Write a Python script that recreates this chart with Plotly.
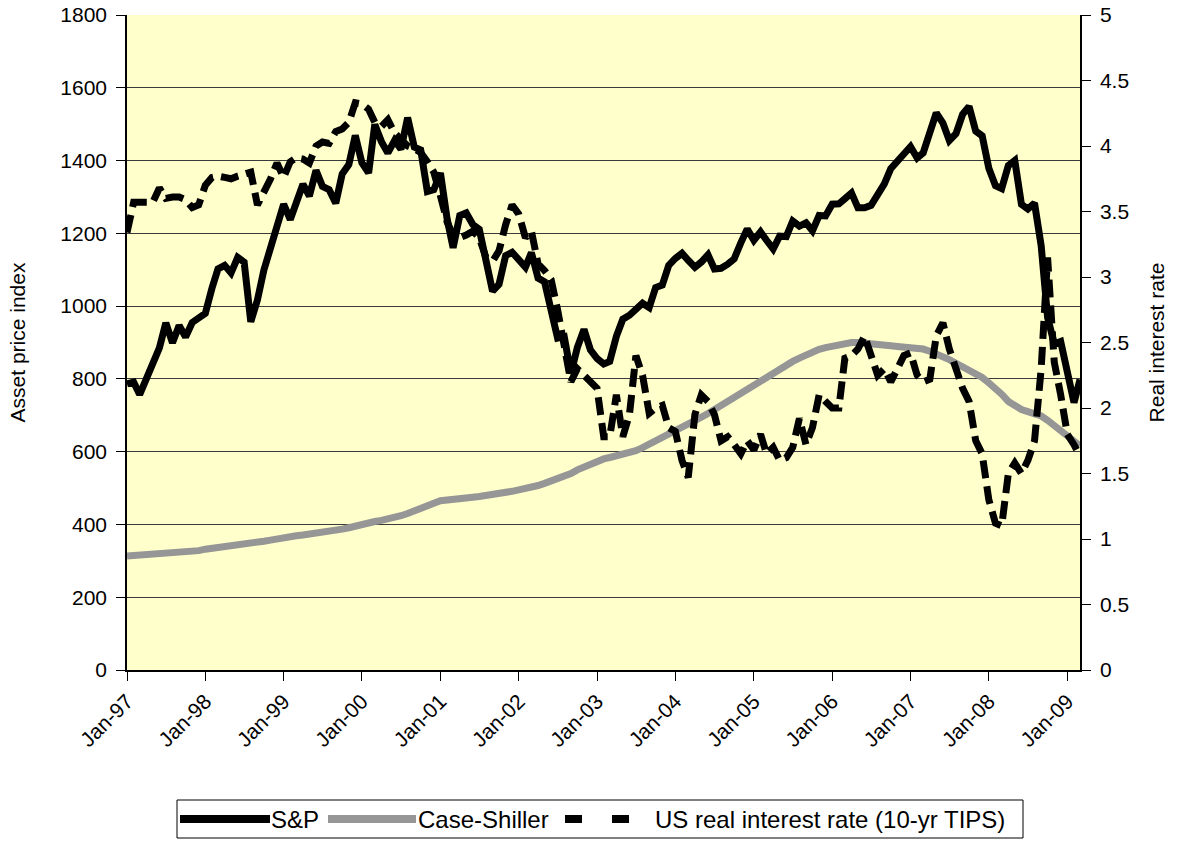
import pandas as pd
import plotly.graph_objects as go

start_month = "1997-01-01"
n_months = 147

sp500 = [
    786, 791, 757, 801, 848, 885, 954, 899, 947, 915, 955, 970,
    980, 1049, 1102, 1112, 1091, 1134, 1121, 957, 1017, 1099, 1164, 1229,
    1280, 1238, 1286, 1335, 1302, 1373, 1329, 1320, 1283, 1363, 1389, 1469,
    1394, 1366, 1499, 1452, 1421, 1455, 1431, 1518, 1437, 1429, 1315, 1320,
    1366, 1240, 1160, 1249, 1256, 1224, 1211, 1134, 1041, 1060, 1139, 1148,
    1130, 1107, 1147, 1077, 1067, 990, 912, 916, 815, 886, 936, 880,
    856, 841, 848, 917, 964, 975, 990, 1008, 996, 1051, 1058, 1112,
    1131, 1145, 1126, 1107, 1121, 1141, 1102, 1104, 1115, 1130, 1174, 1212,
    1181, 1204, 1181, 1157, 1192, 1191, 1234, 1220, 1229, 1207, 1249, 1248,
    1280, 1281, 1295, 1311, 1270, 1270, 1277, 1304, 1336, 1378, 1401, 1418,
    1438, 1407, 1421, 1482, 1531, 1503, 1455, 1474, 1527, 1549, 1481, 1468,
    1379, 1331, 1323, 1386, 1400, 1280, 1267, 1283, 1166, 969, 896, 903,
    826, 735, 798,
]

case_shiller = [
    313, 314, 315, 316, 317, 318, 319, 320, 322, 324, 326, 328,
    332, 334, 336, 338, 340, 342, 345, 348, 351, 354, 357, 361,
    365, 367, 369, 371, 373, 375, 378, 381, 384, 387, 391, 396,
    402, 405, 408, 411, 414, 418, 424, 430, 436, 443, 450, 458,
    465, 468, 470, 472, 473, 475, 477, 479, 482, 485, 488, 491,
    495, 498, 502, 507, 513, 519, 526, 533, 540, 550, 558, 566,
    575, 580, 584, 588, 592, 596, 603, 611, 620, 629, 638, 647,
    657, 666, 675, 685, 695, 705, 716, 727, 738, 750, 762, 772,
    782, 794, 806, 818, 828, 838, 848, 857, 866, 874, 881, 886,
    890, 895, 898, 900, 900, 899, 897, 895, 893, 891, 889, 888,
    887, 885, 882, 876, 870, 862, 853, 843, 834, 825, 815, 804,
    789, 775, 758, 738, 725, 716, 710, 705, 698, 686, 672, 656,
    640, 628, 616,
]

tips_real_rate = [
    3.34, 3.57, 3.57, 3.57, 3.57, 3.68, 3.60, 3.61, 3.61, 3.59, 3.53, 3.55,
    3.70, 3.76, 3.77, 3.76, 3.75, 3.77, 3.78, 3.80, 3.55, 3.64, 3.75, 3.87,
    3.76, 3.88, 3.91, 3.90, 3.87, 4.00, 4.03, 4.02, 4.11, 4.13, 4.18, 4.33,
    4.32, 4.28, 4.18, 4.15, 4.20, 4.10, 4.05, 4.00, 3.98, 3.95, 3.88, 3.80,
    3.62, 3.42, 3.32, 3.30, 3.32, 3.35, 3.30, 3.15, 3.12, 3.20, 3.40, 3.55,
    3.48, 3.30, 3.35, 3.10, 3.05, 2.98, 2.75, 2.45, 2.20, 2.30, 2.25, 2.20,
    2.15, 1.78, 1.78, 2.10, 1.78, 1.95, 2.40, 2.25, 1.96, 2.00, 2.02, 1.85,
    1.82, 1.60, 1.47, 1.95, 2.10, 2.05, 1.95, 1.75, 1.78, 1.72, 1.65, 1.75,
    1.68, 1.80, 1.65, 1.70, 1.60, 1.62, 1.70, 1.92, 1.72, 1.85, 2.10, 2.05,
    2.00, 2.00, 2.38, 2.40, 2.45, 2.55, 2.40, 2.25, 2.30, 2.20, 2.30, 2.40,
    2.42, 2.25, 2.20, 2.22, 2.55, 2.65, 2.45, 2.30, 2.15, 2.05, 1.75, 1.65,
    1.30, 1.12, 1.10, 1.50, 1.58, 1.50, 1.60, 1.75, 2.30, 3.15, 2.35, 2.10,
    1.80, 1.72, 1.63,
]

series_names = ["S&P", "Case-Shiller", "US real interest rate (10-yr TIPS)"]
left_ticks = list(range(0, 1801, 200))
right_ticks = [0, 0.5, 1, 1.5, 2, 2.5, 3, 3.5, 4, 4.5, 5]

dates = pd.date_range(start_month, periods=n_months, freq="MS")

FONT = "Liberation Sans, Arial, sans-serif"
W, H = 1178, 843
ML, MR, MT, MB = 127, 98, 15, 173
PW, PH = W - ML - MR, H - MT - MB

SP_STYLE = dict(color="#000000", width=7)
CS_STYLE = dict(color="#969696", width=7)
TIPS_STYLE = dict(color="#000000", width=7, dash="18px,8px")

fig = go.Figure()
fig.add_trace(go.Scatter(x=dates, y=sp500, name=series_names[0], mode="lines",
                         line=SP_STYLE, showlegend=False))
fig.add_trace(go.Scatter(x=dates, y=case_shiller, name=series_names[1], mode="lines",
                         line=CS_STYLE, showlegend=False))
fig.add_trace(go.Scatter(x=dates, y=tips_real_rate, name=series_names[2], mode="lines",
                         yaxis="y2", line=TIPS_STYLE, showlegend=False))


# ---- custom legend (pixel layout converted to paper coordinates) ----
def px(xp):
    return (xp - ML) / PW


def py(yp):
    return (H - MB - yp) / PH


LEG_Y = 819
shapes = [
    dict(type="rect", xref="paper", yref="paper",
         x0=px(177), x1=px(1023), y0=py(838), y1=py(800),
         line=dict(color="#000000", width=1), fillcolor="#FFFFFF", layer="above"),
    dict(type="line", xref="paper", yref="paper", x0=px(180), x1=px(270),
         y0=py(LEG_Y), y1=py(LEG_Y), line=dict(color="#000000", width=8), layer="above"),
    dict(type="line", xref="paper", yref="paper", x0=px(328), x1=px(416),
         y0=py(LEG_Y), y1=py(LEG_Y), line=dict(color="#969696", width=8), layer="above"),
    dict(type="line", xref="paper", yref="paper", x0=px(565), x1=px(630),
         y0=py(LEG_Y), y1=py(LEG_Y),
         line=dict(color="#000000", width=8, dash="17px,30px"), layer="above"),
]
annotations = [
    dict(text=series_names[0], xref="paper", yref="paper", x=px(269), y=py(LEG_Y),
         xanchor="left", yanchor="middle", showarrow=False,
         font=dict(family=FONT, size=24, color="#000000")),
    dict(text=series_names[1], xref="paper", yref="paper", x=px(416), y=py(LEG_Y),
         xanchor="left", yanchor="middle", showarrow=False,
         font=dict(family=FONT, size=24, color="#000000")),
    dict(text=series_names[2], xref="paper", yref="paper", x=px(653), y=py(LEG_Y),
         xanchor="left", yanchor="middle", showarrow=False,
         font=dict(family=FONT, size=24, color="#000000")),
]

fig.update_layout(
    width=W, height=H,
    margin=dict(l=ML, r=MR, t=MT, b=MB, autoexpand=False),
    paper_bgcolor="#FFFFFF",
    plot_bgcolor="#FFFFCC",
    font=dict(family=FONT, size=21, color="#000000"),
    showlegend=False,
    hovermode=False,
    shapes=shapes,
    annotations=annotations,
    xaxis=dict(
        type="date", range=["1997-01-01", "2009-03-01"],
        tick0="1997-01-01", dtick="M12", tickformat="%b-%y",
        tickangle=-45, ticks="outside", ticklen=9, tickcolor="#000000",
        showline=True, linecolor="#000000", linewidth=1.5,
        showgrid=False, zeroline=False, automargin=False,
        tickfont=dict(family=FONT, size=21),
    ),
    yaxis=dict(
        range=[0, 1800], tickvals=left_ticks, ticks="outside", ticklen=9,
        tickcolor="#000000", showline=True, linecolor="#000000", linewidth=1.5,
        showgrid=True, gridcolor="#3a3a3a", gridwidth=1, zeroline=False,
        ticklabelstandoff=5, automargin=False,
        title=dict(text="Asset price index", standoff=29,
                   font=dict(family=FONT, size=21)),
        tickfont=dict(family=FONT, size=21),
    ),
    yaxis2=dict(
        range=[0, 5], tickvals=right_ticks, overlaying="y", side="right",
        ticks="outside", ticklen=9, tickcolor="#000000",
        showline=True, linecolor="#000000", linewidth=1.5,
        showgrid=False, zeroline=False, ticklabelstandoff=5, automargin=False,
        title=dict(text="Real interest rate", standoff=21,
                   font=dict(family=FONT, size=21)),
        tickfont=dict(family=FONT, size=21),
    ),
)

fig.write_html("out.html",
               config={"displayModeBar": False},
               post_script="document.body.style.margin='0px';"
                           "document.body.style.padding='0px';")
